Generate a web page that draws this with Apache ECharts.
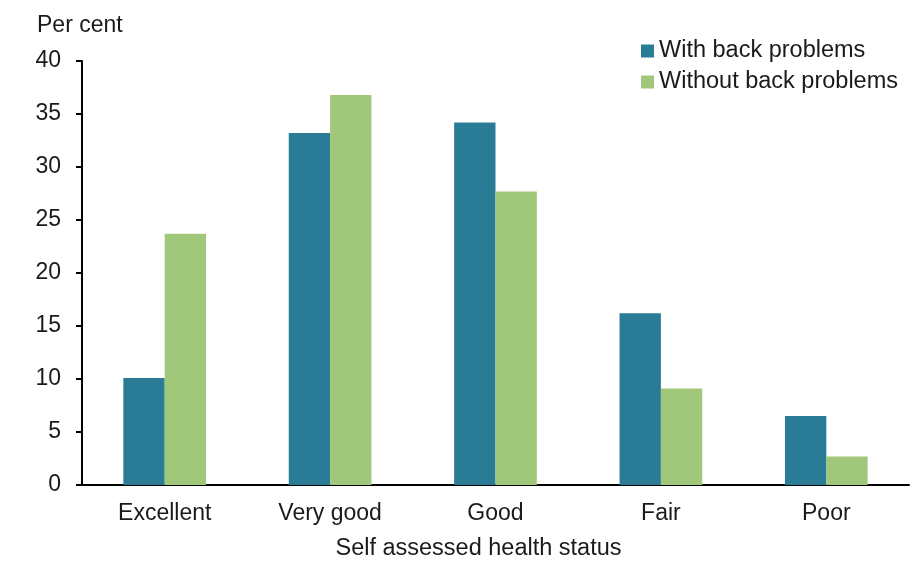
<!DOCTYPE html>
<html>
<head>
<meta charset="utf-8">
<script src="https://cdn.jsdelivr.net/npm/echarts@6/dist/echarts.min.js"></script>
<style>
html,body{margin:0;padding:0;background:#fff;}
#chart{width:922px;height:562px;}
</style>
</head>
<body>
<div id="chart"></div>
<script>
// categories and values
var categories = ['Excellent', 'Very good', 'Good', 'Fair', 'Poor'];
var withBack = [10.1, 33.2, 34.2, 16.2, 6.5];
var withoutBack = [23.7, 36.8, 27.7, 9.1, 2.7];
var yTicks = [0, 5, 10, 15, 20, 25, 30, 35, 40];

var font = 'Liberation Sans, Arial, sans-serif';
var fs = 23;
var myChart = echarts.init(document.getElementById('chart'));
var option = {
    backgroundColor: '#fff',
    animation: false,
    title: {
        text: 'Per cent',
        left: 37, top: 14,
        padding: 0,
        textStyle: {fontFamily: font, fontSize: fs, fontWeight: 'normal', color: '#1a1a1a'}
    },
    legend: {
        orient: 'vertical',
        left: 641, top: 39,
        padding: 0,
        itemWidth: 13, itemHeight: 13, itemGap: 7,
        icon: 'rect',
        textStyle: {fontFamily: font, fontSize: 23.5, color: '#1a1a1a', padding: [0, 0, 0, 0]},
        data: ['With back problems', 'Without back problems']
    },
    grid: {left: 82, right: 13, top: 61, bottom: 77, outerBoundsMode: 'none', containLabel: false},
    xAxis: {
        type: 'category',
        data: categories,
        name: 'Self assessed health status',
        nameLocation: 'middle',
        nameGap: 52,
        nameTextStyle: {fontFamily: font, fontSize: 23.5, color: '#1a1a1a', padding: [0, 34, 0, 0]},
        axisLine: {lineStyle: {color: '#000', width: 2}},
        axisTick: {show: false},
        axisLabel: {fontFamily: font, fontSize: fs, color: '#1a1a1a', margin: 17}
    },
    yAxis: {
        type: 'value',
        min: yTicks[0], max: yTicks[yTicks.length - 1], interval: 5,
        axisLine: {show: true, lineStyle: {color: '#000', width: 2}},
        axisTick: {show: true, length: 6, lineStyle: {color: '#000', width: 2}},
        splitLine: {show: false},
        axisLabel: {fontFamily: font, fontSize: fs, color: '#1a1a1a', margin: 21, padding: [3, 0, 0, 0]}
    },
    series: [
        {
            name: 'With back problems', type: 'bar', data: withBack,
            barGap: '0%', barCategoryGap: '50%',
            itemStyle: {color: '#2a7b96'}
        },
        {
            name: 'Without back problems', type: 'bar', data: withoutBack,
            itemStyle: {color: '#a1c77b'}
        }
    ]
};
myChart.setOption(option);
</script>
</body>
</html>
